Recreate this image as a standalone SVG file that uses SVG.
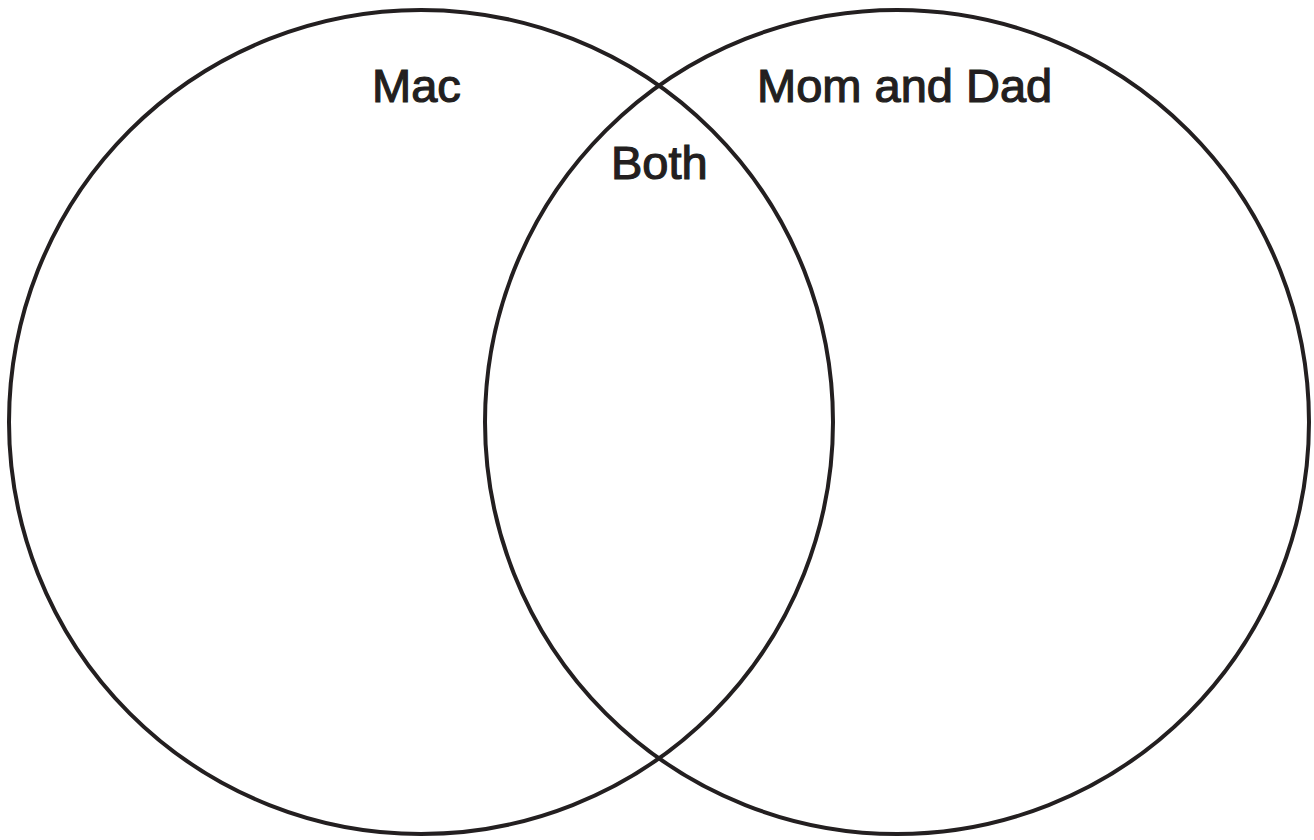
<svg xmlns="http://www.w3.org/2000/svg" width="1314" height="840" viewBox="0 0 1314 840">
<style>
.c{fill:none;stroke:#231f20;stroke-width:4}
.t{font-family:"Liberation Sans",Arial,sans-serif;font-size:47px;fill:#231f20;stroke:#231f20;stroke-width:1.2}
</style>
<rect width="1314" height="840" fill="#fff"/>
<g id="mac">
<circle class="c" cx="421" cy="422" r="412"/>
<text class="t" x="372" y="102">Mac</text>
</g>
<g id="momdad">
<circle class="c" cx="897" cy="422" r="412"/>
<text class="t" x="757" y="102">Mom and Dad</text>
</g>
<g id="both">
<text class="t" x="611" y="179">Both</text>
</g>
<g id="connectors"></g>
</svg>
